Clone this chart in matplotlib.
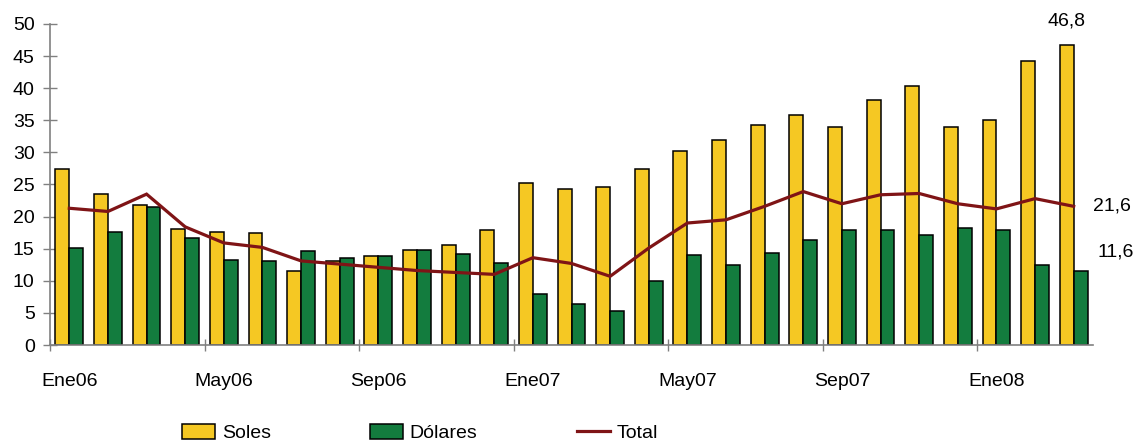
import matplotlib
matplotlib.use("Agg")
import numpy as np
import matplotlib.pyplot as plt
from matplotlib.patches import Patch
from matplotlib.lines import Line2D

plt.rcParams['font.family'] = ['Liberation Sans', 'DejaVu Sans']

# Datos mensuales Ene06 - Mar08
MESES = [
    "Ene06", "Feb06", "Mar06", "Abr06", "May06", "Jun06", "Jul06", "Ago06",
    "Sep06", "Oct06", "Nov06", "Dic06", "Ene07", "Feb07", "Mar07", "Abr07",
    "May07", "Jun07", "Jul07", "Ago07", "Sep07", "Oct07", "Nov07", "Dic07",
    "Ene08", "Feb08", "Mar08"
]
SOLES = [
    27.4, 23.5, 21.8, 18.1, 17.6, 17.4, 11.5, 13.1, 13.8, 14.8, 15.6, 17.9,
    25.3, 24.3, 24.6, 27.4, 30.2, 32.0, 34.3, 35.8, 34.0, 38.2, 40.4, 34.0,
    35.0, 44.2, 46.8
]
DOLARES = [
    15.1, 17.6, 21.5, 16.6, 13.3, 13.1, 14.6, 13.6, 13.8, 14.8, 14.1, 12.8,
    7.9, 6.4, 5.3, 10.0, 14.0, 12.5, 14.4, 16.4, 17.9, 17.9, 17.1, 18.2,
    17.9, 12.5, 11.6
]
TOTAL = [
    21.3, 20.8, 23.5, 18.4, 15.9, 15.2, 13.1, 12.6, 12.1, 11.6, 11.3, 11.0,
    13.6, 12.7, 10.7, 15.1, 19.0, 19.5, 21.6, 23.9, 22.0, 23.4, 23.6, 22.0,
    21.2, 22.8, 21.6
]
ETIQUETAS = ["46,8", "21,6", "11,6"]

AMARILLO = "#F5C823"
VERDE = "#137C3E"
ROJO = "#7F1416"
GRIS = "#808080"

W, H = 1135, 444
fig = plt.figure(figsize=(W / 100, H / 100), dpi=100)
ax = fig.add_axes([50 / W, 99 / H, 1043 / W, 321 / H])

x = np.arange(len(MESES))
ancho = 0.36
ax.bar(x - ancho / 2, SOLES, ancho, color=AMARILLO, edgecolor="black", linewidth=1.1, zorder=2)
ax.bar(x + ancho / 2, DOLARES, ancho, color=VERDE, edgecolor="black", linewidth=1.1, zorder=2)
ax.plot(x, TOTAL, color=ROJO, linewidth=2.3, zorder=3, solid_joinstyle="miter")

ax.set_xlim(-0.5, len(MESES) - 0.5)
ax.set_ylim(0, 50)
ax.set_yticks(np.arange(0, 51, 5))

# ticks en los bordes, etiquetas en el centro de la categoria
ax.set_xticks(np.arange(0, len(MESES), 4) - 0.5)
ax.set_xticklabels([])
ax.set_xticks(np.arange(0, len(MESES), 4), minor=True)
ax.set_xticklabels([MESES[i] for i in range(0, len(MESES), 4)], minor=True)
ax.tick_params(axis="x", which="major", direction="inout", length=8, width=1, color=GRIS)
ax.tick_params(axis="x", which="minor", length=0, pad=20, labelsize=14)
ax.tick_params(axis="y", direction="inout", length=10, width=1, color=GRIS, pad=6, labelsize=14)

for lado in ["top", "right"]:
    ax.spines[lado].set_visible(False)
for lado in ["left", "bottom"]:
    ax.spines[lado].set_color(GRIS)
    ax.spines[lado].set_linewidth(1.2)

ultimo = len(MESES) - 1
ax.annotate(ETIQUETAS[0], (ultimo - ancho / 2, SOLES[-1]), xytext=(0, 11),
            textcoords="offset points", ha="center", va="bottom", fontsize=14)
ax.annotate(ETIQUETAS[1], (ultimo, TOTAL[-1]), xytext=(14, 0),
            textcoords="offset points", ha="left", va="center", fontsize=14,
            annotation_clip=False)
ax.annotate(ETIQUETAS[2], (ultimo + ancho / 2, DOLARES[-1]), xytext=(12, 13),
            textcoords="offset points", ha="left", va="center", fontsize=14,
            annotation_clip=False)

handles = [
    Patch(facecolor=AMARILLO, edgecolor="black", linewidth=1.1),
    Patch(facecolor=VERDE, edgecolor="black", linewidth=1.1),
    Line2D([0], [0], color=ROJO, linewidth=2.3),
]
fig.legend(handles, ["Soles", "Dólares", "Total"], ncol=3, frameon=False,
           loc="center left", bbox_to_anchor=(174 / W, 11 / H), fontsize=14,
           handlelength=1.7, handleheight=0.85, handletextpad=0.35,
           columnspacing=5.1, borderaxespad=0)

fig.savefig("out.png", dpi=100)
